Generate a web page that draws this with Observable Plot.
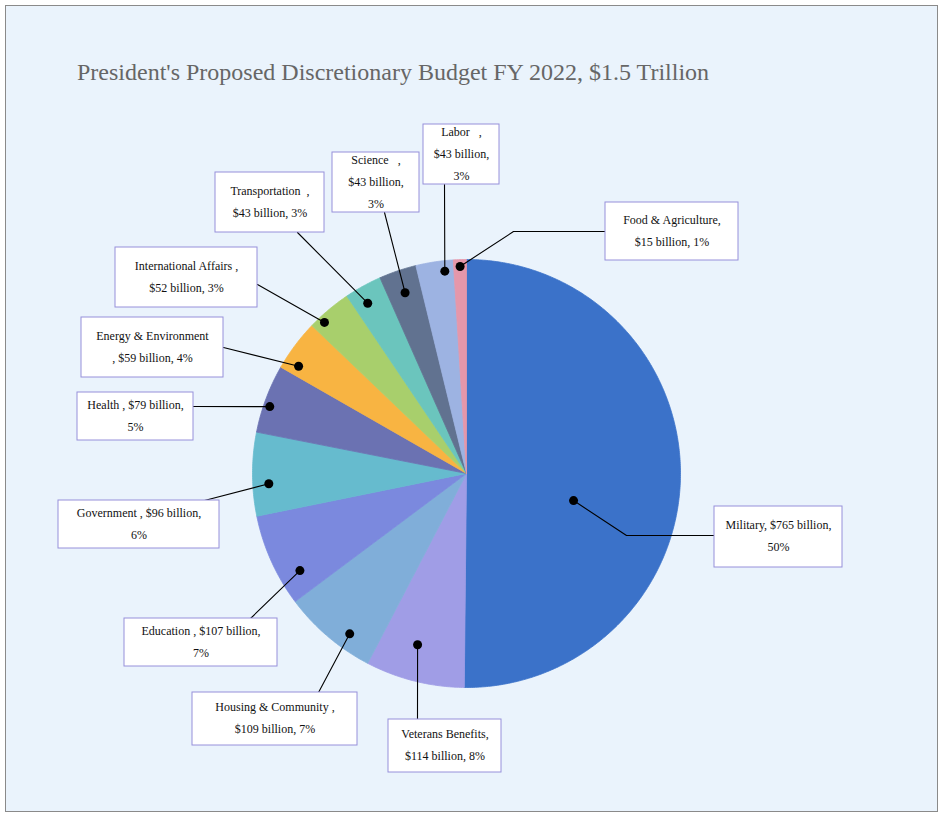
<!DOCTYPE html>
<html>
<head>
<meta charset="utf-8">
<script src="https://cdn.jsdelivr.net/npm/d3@7"></script>
<script src="https://cdn.jsdelivr.net/npm/@observablehq/plot@0.6"></script>
<style>
  html, body { margin: 0; padding: 0; background: #ffffff; }
  #frame {
    position: absolute; left: 5px; top: 5px;
    width: 933px; height: 807px; box-sizing: border-box;
    border: 1px solid #8a8a8a; background: #eaf3fc; overflow: hidden;
  }
  #title {
    height: 100px; box-sizing: border-box;
    padding-top: 54px; padding-left: 71px;
    font-family: "Liberation Serif", "Times New Roman", serif;
    font-size: 24px; line-height: 24px; color: #666666; white-space: nowrap;
  }
  #chart svg text {
    white-space: pre;
    font-family: "Liberation Serif", "Times New Roman", serif;
  }
</style>
</head>
<body>
<div id="frame">
  <div id="title">President's Proposed Discretionary Budget FY 2022, $1.5 Trillion</div>
  <div id="chart"></div>
</div>
<script>
// ---- data ----
const categories = ["Military", "Veterans Benefits", "Housing & Community", "Education", "Government", "Health",
  "Energy & Environment", "International Affairs", "Transportation", "Science", "Labor", "Food & Agriculture"];
const values = [765, 114, 109, 107, 96, 79, 59, 52, 43, 43, 43, 15];   // $ billion
const percents = [50, 8, 7, 7, 6, 5, 4, 3, 3, 3, 3, 1];
const colors = ["#3b72c9", "#a09de6", "#80aed9", "#7b89de", "#66bbce", "#6b72b2",
  "#f8b442", "#a8cf6c", "#6bc5bd", "#617290", "#9db3e2", "#e597aa"];
// label text templates ({c}=category, {v}=value, {p}=percent, | = line break)
const labelTemplates = [
  "{c}, ${v} billion,|{p}%",
  "{c},|${v} billion, {p}%",
  "{c} ,|${v} billion, {p}%",
  "{c} , ${v} billion,|{p}%",
  "{c} , ${v} billion,|{p}%",
  "{c} , ${v} billion,|{p}%",
  "{c}|, ${v} billion, {p}%",
  "{c} ,|${v} billion, {p}%",
  "{c}  ,|${v} billion, {p}%",
  "{c}   ,|${v} billion,|{p}%",
  "{c}   ,|${v} billion,|{p}%",
  "{c},|${v} billion, {p}%"
];

// ---- layout (page pixel coordinates) ----
const pie = {cx: 466, cy: 473, r: 214};
const callouts = [
  {rf: 0.516, da: 13.9, box: [714, 506, 842, 567], leg: [[626, 535], [714, 535]]},
  {rf: 0.832, da: 1.9,  box: [388, 719, 501, 772], leg: [[417, 719]]},
  {rf: 0.927, da: -4.3, box: [192, 692, 357, 745], leg: [[318, 692]]},
  {rf: 0.901, da: -6.1, box: [124, 618, 277, 666], leg: [[250, 618]]},
  {rf: 0.925, da: -2.8, box: [58, 500, 219, 548],  leg: [[204, 500]]},
  {rf: 0.971, da: -1.7, box: [77, 392, 193, 440],  leg: [[193, 406]]},
  {rf: 0.931, da: -4.2, box: [81, 317, 223, 377],  leg: [[223, 347]]},
  {rf: 0.969, da: -3.1, box: [115, 247, 257, 307], leg: [[257, 284]]},
  {rf: 0.920, da: -1.2, box: [215, 172, 324, 232], leg: [[297, 232]]},
  {rf: 0.892, da: 0,    box: [332, 152, 419, 212], leg: [[384, 212]]},
  {rf: 0.951, da: 2.5,  box: [423, 124, 499, 184], leg: [[444, 184]]},
  {rf: 0.968, da: 0,    box: [605, 202, 738, 260], leg: [[513, 231], [605, 231]]}
];

// ---- build pie geometry with d3.pie ----
const arcs = d3.pie().sort(null).value(d => d)(values);
const toXY = (angle, radius) => [pie.cx + radius * Math.sin(angle), pie.cy - radius * Math.cos(angle)];

const slicePts = [];
arcs.forEach((a, i) => {
  const n = Math.max(4, Math.ceil((a.endAngle - a.startAngle) / (Math.PI / 360)));
  slicePts.push({name: categories[i], x: pie.cx, y: pie.cy, color: colors[i]});
  for (let k = 0; k <= n; k++) {
    const t = a.startAngle + (a.endAngle - a.startAngle) * k / n;
    const [x, y] = toXY(t, pie.r);
    slicePts.push({name: categories[i], x, y, color: colors[i]});
  }
  slicePts.push({name: categories[i], x: pie.cx, y: pie.cy, color: colors[i]});
});

const dots = [], leaders = [], boxes = [], labels = [];
arcs.forEach((a, i) => {
  const L = callouts[i];
  const mid = (a.startAngle + a.endAngle) / 2 + L.da * Math.PI / 180;
  const [dx, dy] = toXY(mid, L.rf * pie.r);
  dots.push({x: dx, y: dy});
  leaders.push({name: categories[i], x: dx, y: dy});
  L.leg.forEach(([x, y]) => leaders.push({name: categories[i], x, y}));
  const [x1, y1, x2, y2] = L.box;
  boxes.push({x1, y1, x2, y2});
  const text = labelTemplates[i]
    .replace("{c}", categories[i]).replace("{v}", values[i]).replace("{p}", percents[i])
    .split("|").join("\n");
  labels.push({x: (x1 + x2) / 2, y: (y1 + y2) / 2, text});
});

const W = 931, H = 705, X0 = 6, Y0 = 106;
const chart = Plot.plot({
  width: W, height: H, margin: 0,
  style: {background: "transparent", overflow: "visible"},
  x: {domain: [X0, X0 + W], range: [0, W], axis: null},
  y: {domain: [Y0, Y0 + H], range: [0, H], axis: null},
  color: {type: "identity"},
  marks: [
    Plot.line(slicePts, {x: "x", y: "y", z: "name", fill: "color", stroke: "color", strokeWidth: 0.8, curve: "linear"}),
    Plot.line(leaders, {x: "x", y: "y", z: "name", stroke: "#000", strokeWidth: 1.1}),
    Plot.dot(dots, {x: "x", y: "y", r: 4.5, fill: "#000", stroke: null}),
    Plot.rect(boxes, {x1: "x1", x2: "x2", y1: "y1", y2: "y2", fill: "#ffffff", stroke: "#9690da", strokeWidth: 1}),
    Plot.text(labels, {x: "x", y: "y", text: "text", fill: "#111", fontSize: 12, dy: -4,
      fontFamily: "Liberation Serif", textAnchor: "middle", lineAnchor: "middle", lineHeight: 22 / 12})
  ]
});
document.getElementById("chart").appendChild(chart);
</script>
</body>
</html>
